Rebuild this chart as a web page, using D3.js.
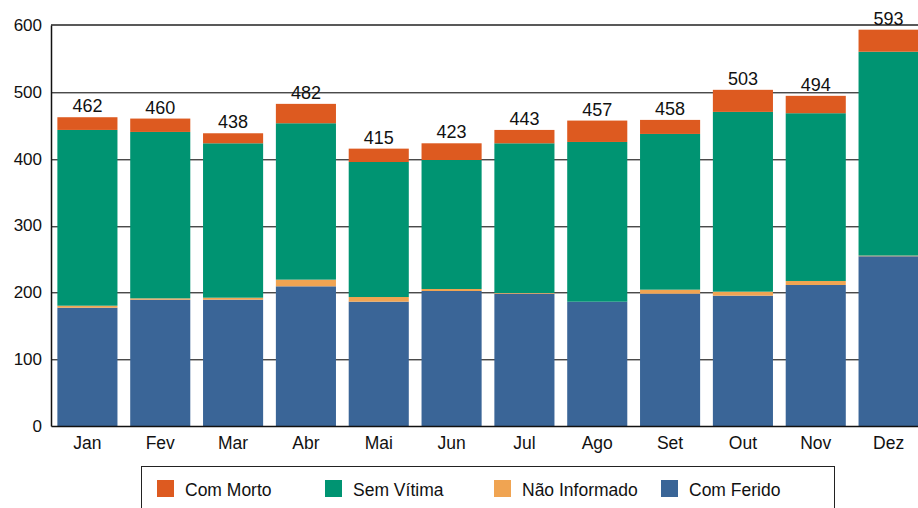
<!DOCTYPE html>
<html>
<head>
<meta charset="utf-8">
<script src="https://cdn.jsdelivr.net/npm/d3@7"></script>
<style>
  body { margin: 0; background: #fff; }
  svg { display: block; font-family: "Liberation Sans", Arial, sans-serif; }
</style>
</head>
<body>
<svg id="chart" width="918" height="508"></svg>
<script>
const months = ['Jan', 'Fev', 'Mar', 'Abr', 'Mai', 'Jun', 'Jul', 'Ago', 'Set', 'Out', 'Nov', 'Dez'];
const comFerido = [177, 189, 189, 209, 186, 202, 198, 186, 198, 195, 211, 254];
const naoInformado = [3, 2, 3, 10, 7, 3, 1, 0, 6, 6, 6, 1];
const semVitima = [263, 249, 231, 234, 202, 193, 224, 239, 233, 269, 251, 305];
const comMorto = [19, 20, 15, 29, 20, 25, 20, 32, 21, 33, 26, 33];
const yTicks = [0, 100, 200, 300, 400, 500, 600];

const seriesNames = ['Com Ferido', 'Não Informado', 'Sem Vítima', 'Com Morto'];
const colors = {
    'Com Morto': '#DD5A20',
    'Sem Vítima': '#009472',
    'Não Informado': '#F0A452',
    'Com Ferido': '#3A6597'
};
const legendOrder = ['Com Morto', 'Sem Vítima', 'Não Informado', 'Com Ferido'];

const rows = months.map((m, i) => ({
    month: m,
    'Com Ferido': comFerido[i],
    'Não Informado': naoInformado[i],
    'Sem Vítima': semVitima[i],
    'Com Morto': comMorto[i]
}));

const svg = d3.select('#chart');
const plotLeft = 51, plotRight = 925, plotTop = 25, plotBottom = 426;
const font = '"Liberation Sans", Arial, sans-serif';

const x = d3.scaleBand()
    .domain(months)
    .range([plotLeft, plotRight])
    .paddingInner(0.175)
    .paddingOuter(0.0875);

const y = d3.scaleLinear()
    .domain([0, 600])
    .range([plotBottom, plotTop]);

// gridlines
const grid = svg.append('g');
yTicks.filter(t => t > 0 && t < 600).forEach(t => {
    grid.append('line')
        .attr('x1', plotLeft).attr('x2', 918)
        .attr('y1', Math.round(y(t)) + 0.5).attr('y2', Math.round(y(t)) + 0.5)
        .attr('stroke', '#4a4a4a');
    grid.append('line')
        .attr('x1', plotLeft).attr('x2', 918)
        .attr('y1', Math.round(y(t)) + 1.5).attr('y2', Math.round(y(t)) + 1.5)
        .attr('stroke', '#b0b0b0');
});
// top border
svg.append('line')
    .attr('x1', plotLeft).attr('x2', 918)
    .attr('y1', y(600)).attr('y2', y(600))
    .attr('stroke', '#222').attr('stroke-width', 1.5);

const stack = d3.stack().keys(seriesNames)(rows);

svg.append('g').selectAll('g').data(stack).enter()
    .append('g')
    .attr('fill', d => colors[d.key])
    .selectAll('rect').data(d => d).enter()
    .append('rect')
    .attr('x', d => x(d.data.month))
    .attr('width', x.bandwidth())
    .attr('y', d => y(d[1]))
    .attr('height', d => y(d[0]) - y(d[1]));

// totals
svg.append('g').selectAll('text').data(rows).enter()
    .append('text')
    .attr('x', d => x(d.month) + x.bandwidth() / 2)
    .attr('y', d => y(d3.sum(seriesNames, k => d[k])) - 5)
    .attr('text-anchor', 'middle')
    .attr('font-size', '18px')
    .attr('fill', '#111')
    .text(d => d3.sum(seriesNames, k => d[k]));

// axes
const yAxis = svg.append('g')
    .attr('transform', `translate(${plotLeft},0)`)
    .call(d3.axisLeft(y).tickValues(yTicks).tickSize(0).tickPadding(9));
yAxis.select('.domain').attr('stroke', '#111').attr('stroke-width', 1.5);
yAxis.selectAll('text').attr('font-size', '17px').attr('fill', '#111')
    .attr('font-family', font);

const xAxis = svg.append('g')
    .attr('transform', `translate(0,${plotBottom})`)
    .call(d3.axisBottom(x).tickSize(0).tickPadding(11));
xAxis.select('.domain').attr('stroke', '#111').attr('stroke-width', 1.5);
xAxis.selectAll('text').attr('font-size', '17.5px').attr('fill', '#111')
    .attr('font-family', font);

// legend
const legend = svg.append('g');
legend.append('rect')
    .attr('x', 141.5).attr('y', 466.5)
    .attr('width', 693).attr('height', 50)
    .attr('fill', '#fff')
    .attr('stroke', '#222');

const legendX = [157, 325, 494, 661];
legendOrder.forEach((name, i) => {
    legend.append('rect')
        .attr('x', legendX[i]).attr('y', 480)
        .attr('width', 17).attr('height', 17)
        .attr('fill', colors[name]);
    legend.append('text')
        .attr('x', legendX[i] + 28).attr('y', 495.5)
        .attr('font-size', '17.5px')
        .attr('fill', '#111')
        .text(name);
});
</script>
</body>
</html>
